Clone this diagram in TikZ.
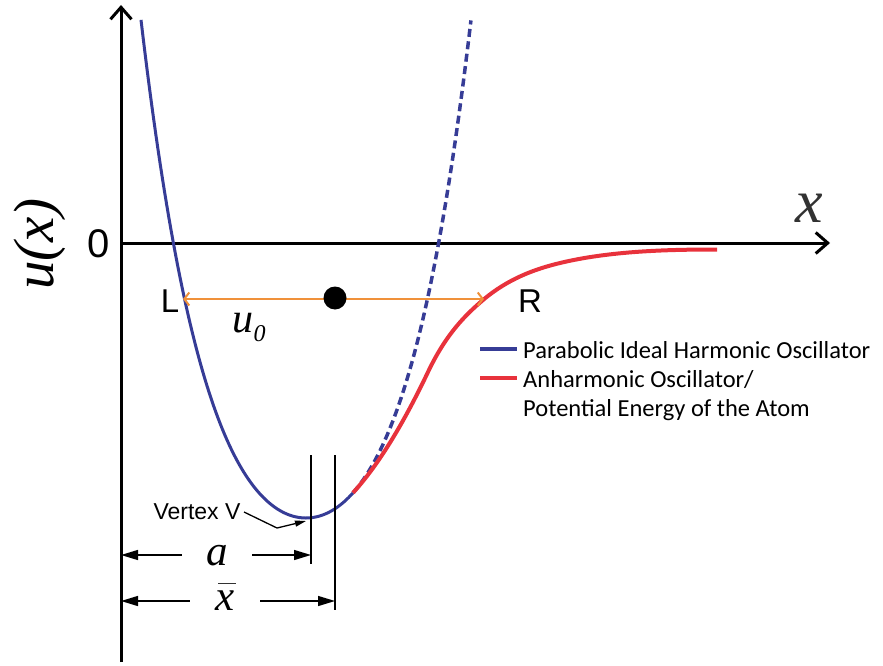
\documentclass[tikz,border=0pt]{standalone}
\usepackage{fontspec}
\setmainfont{Liberation Sans}
\newfontfamily\arialf{Liberation Sans}
\newfontfamily\tnr{Liberation Serif}
\newfontfamily\calib{Carlito}
\usetikzlibrary{arrows.meta}
\definecolor{cblue}{RGB}{54,60,150}
\definecolor{cred}{RGB}{232,50,60}
\definecolor{corange}{RGB}{240,145,58}
\definecolor{cgray}{RGB}{50,50,50}
\tikzset{
  axisline/.style={line width=3pt,-{Straight Barb[length=12pt,width=21pt,line width=3pt]}},
  bluecurve/.style={cblue,line width=3pt},
  bluedash/.style={cblue,line width=3.5pt,dash pattern=on 8pt off 4.5pt},
  redcurve/.style={cred,line width=4pt},
  orangearrow/.style={corange,line width=2pt,{Straight Barb[length=5pt,width=13pt]}-{Straight Barb[length=5pt,width=13pt]}},
  dimline/.style={line width=1.3pt,-{Triangle[length=17pt,width=10pt]}},
  guide/.style={line width=1.3pt},
  gaplabel/.style={inner sep=0pt,minimum width=70pt,minimum height=24pt},
  legtext/.style={anchor=base west,inner sep=0pt,font=\calib\fontsize{24.5}{24.5}\selectfont},
}
\begin{document}
\begin{tikzpicture}[x=1pt,y=-1pt]
\useasboundingbox (0,0) rectangle (883,666);
% axes
\coordinate (O) at (121,243);
\coordinate (ytop) at (121,5);
\coordinate (ybot) at (121,662);
\coordinate (xend) at (830,243);
\draw[line width=3pt] (ybot) -- (O);
\draw[axisline] (O) -- (ytop);
\draw[axisline] (O) -- (xend);
\node (zero) at (99,244) {\arialf\fontsize{40}{40}\selectfont 0};
\node[rotate=90] (ulab) at (40,244) {\tnr\itshape\fontsize{57}{57}\selectfont u(x)};
\node[text=cgray] (xlab) at (809,208) {\tnr\itshape\fontsize{62}{62}\selectfont x};
% blue parabola
\draw[bluecurve] plot[domain=-1.65:0.47,samples=100] ({306+100*\x},{518-107.8*\x*\x-27.61*\x*\x*\x*\x});
\draw[bluedash] plot[domain=0.47:1.65,samples=60] ({306+100*\x},{518-107.8*\x*\x-27.61*\x*\x*\x*\x});
% red curve
\draw[redcurve] (353,492.8) .. controls (378,465.5) and (403,424.5) .. (428,372)
  .. controls (446,334.2) and (465,315.3) .. (483,300)
  .. controls (508,278.75) and (535,269) .. (560,263)
  .. controls (610,251) and (667,249.5) .. (717,249.5);
% L R arrow
\coordinate (Lpt) at (183,299);
\coordinate (Rpt) at (484,299);
\node (Llab) at (170,301) {\arialf\fontsize{33}{33}\selectfont L};
\node (Rlab) at (530,301) {\arialf\fontsize{33}{33}\selectfont R};
\draw[orangearrow] (Lpt) -- (Rpt);
\node[circle,fill=black,minimum size=23pt,inner sep=0pt] (dot) at (335,298) {};
\node (u0) at (249,327) {\tnr\itshape\fontsize{42}{42}\selectfont u\raisebox{-9pt}{\fontsize{24}{24}\selectfont 0}};
% legend
\coordinate (lb1) at (480,349);
\coordinate (lb2) at (517,349);
\coordinate (lr1) at (480,378);
\coordinate (lr2) at (517,378);
\draw[cblue,line width=3.5pt] (lb1) -- (lb2);
\draw[cred,line width=3.5pt] (lr1) -- (lr2);
\node[legtext] (leg1) at (523,358) {Parabolic Ideal Harmonic Oscillator};
\node[legtext] (leg2) at (523,387) {Anharmonic Oscillator/};
\node[legtext] (leg3) at (523,416) {Potential Energy of the Atom};
% guide lines
\coordinate (g1t) at (311,455);
\coordinate (g1b) at (311,564);
\coordinate (g2t) at (335,455);
\coordinate (g2b) at (335,610);
\draw[guide] (g1t) -- (g1b);
\draw[guide] (g2t) -- (g2b);
% dimension a
\node[gaplabel] (alab) at (217,556) {\tnr\itshape\fontsize{43}{43}\selectfont a};
\coordinate (aL) at (121,555);
\coordinate (aR) at (311,555);
\draw[dimline] (alab.west|-aL) -- (aL);
\draw[dimline] (alab.east|-aR) -- (aR);
% dimension xbar
\node[gaplabel] (xblab) at (225,601) {\tnr\itshape\fontsize{43}{43}\selectfont\rlap{\hspace{3pt}\raisebox{26.5pt}[0pt][0pt]{\color{cgray}\rule{18pt}{1.6pt}}}x};
\coordinate (xL) at (121,601);
\coordinate (xR) at (335,601);
\draw[dimline] (xblab.west|-xL) -- (xL);
\draw[dimline] (xblab.east|-xR) -- (xR);
% vertex label
\node (vtx) at (197,512) {\arialf\fontsize{23}{23}\selectfont Vertex V};
\coordinate (vbend) at (277,528);
\coordinate (vpt) at (306,521);
\draw[line width=1.3pt,-{Triangle[length=11pt,width=6pt]}] (vtx.east) -- (vbend) -- (vpt);
\end{tikzpicture}
\end{document}
